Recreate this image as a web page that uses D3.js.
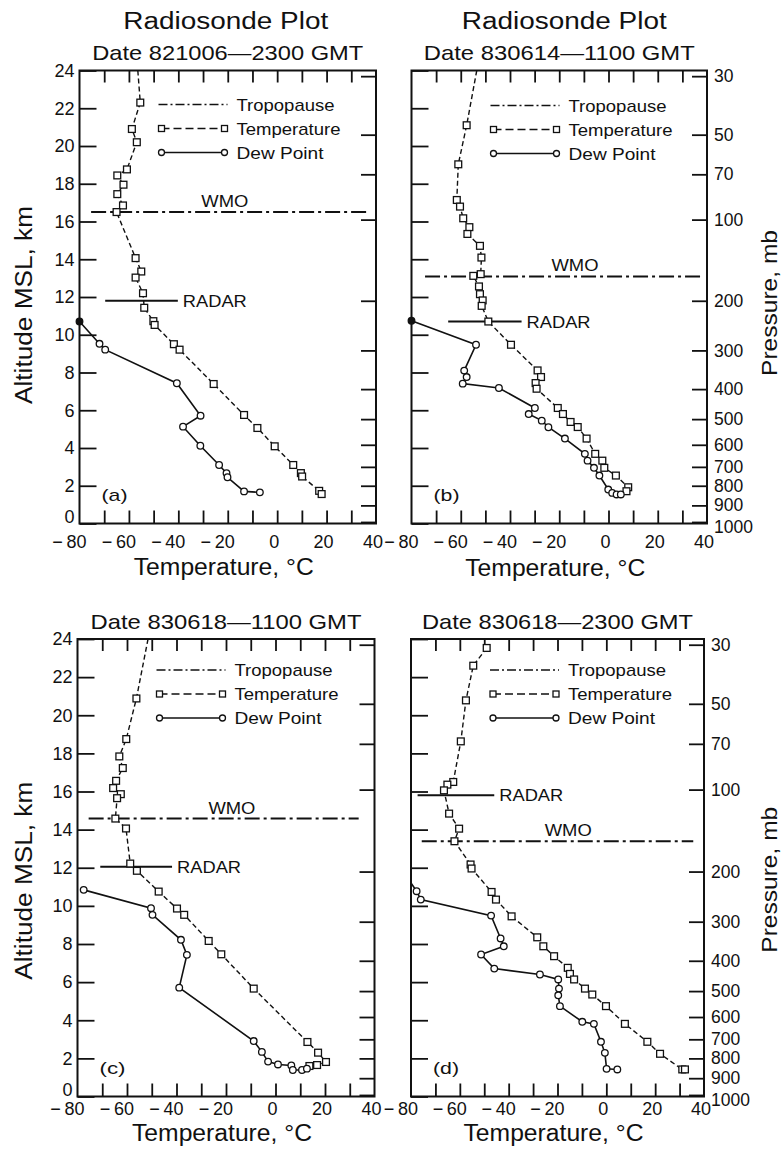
<!DOCTYPE html>
<html>
<head>
<meta charset="utf-8">
<script src="https://cdn.jsdelivr.net/npm/d3@7"></script>
<style>
  body { margin: 0; background: #fff; }
  svg { display: block; font-family: "Liberation Sans", Arial, Helvetica, sans-serif; }
</style>
</head>
<body>
<div id="chart"></div>
<script>
// values
const panelLetters = ["(a)", "(b)", "(c)", "(d)"];
const headlines = ["Radiosonde Plot", "Radiosonde Plot", "", ""];
const dateLines = ["Date 821006\u20142300 GMT", "Date 830614\u20141100 GMT",
                   "Date 830618\u20141100 GMT", "Date 830618\u20142300 GMT"];
const legendLabels = ["Tropopause", "Temperature", "Dew Point"];

const tempLabelValues = [-80, -60, -40, -20, 0, 20, 40];
const tempTickValues = [-70, -60, -50, -40, -30, -20, -10, 0, 10, 20, 30];
const altitudeTicks = [0, 2, 4, 6, 8, 10, 12, 14, 16, 18, 20, 22, 24];
const pressureLabels = [30, 50, 70, 100, 200, 300, 400, 500, 600, 700, 800, 900, 1000];
const pressureKm = [23.7, 20.6, 18.5, 16.1, 11.8, 9.17, 7.12, 5.53, 4.17, 3.0, 2.0, 0.96, 0.08];

// [temperature °C, altitude km]
const tempA = [[-55.4,22.3],[-58.8,20.9],[-56.8,20.2],[-60.8,18.76],[-64.7,18.44],[-62.2,17.95],[-64.7,17.45],
  [-62.4,16.85],[-65.0,16.5],[-57.3,14.06],[-55.0,13.35],[-57.3,13.03],[-54.3,12.2],[-53.8,11.43],[-50.1,10.72],
  [-49.6,10.52],[-41.8,9.5],[-39.5,9.21],[-25.7,7.39],[-13.4,5.75],[-8.0,5.06],[-1.0,4.09],[6.5,3.1],[9.6,2.67],
  [10.1,2.49],[17.0,1.73],[18.0,1.56]];
const dewA = [[-80,10.7],[-71.9,9.52],[-69.6,9.21],[-40.6,7.43],[-31.0,5.71],[-38.1,5.13],[-31.1,4.12],[-23.5,3.1],
  [-20.5,2.67],[-20.1,2.45],[-13.4,1.7],[-7.0,1.65]];

const tempB = [[-57.6,21.1],[-61.0,19.03],[-61.6,17.14],[-60.3,16.79],[-59.0,16.17],[-56.5,15.7],[-57.3,15.34],
  [-52.2,14.71],[-51.6,14.09],[-51.9,13.21],[-54.9,13.12],[-52.6,12.56],[-52.2,12.15],[-51.1,11.82],[-51.5,11.53],
  [-48.8,10.7],[-39.6,9.47],[-28.8,8.11],[-27.4,7.76],[-29.6,7.44],[-29.2,7.14],[-20.6,6.12],[-18.5,5.8],
  [-15.4,5.38],[-12.5,5.11],[-8.9,4.5],[-5.4,3.69],[-2.5,3.33],[-1.7,2.95],[3.0,2.54],[8.0,1.92],[7.3,1.71]];
const dewB = [[-80,10.74],[-53.8,9.47],[-58.6,8.1],[-57.6,7.76],[-59.2,7.41],[-44.5,7.18],[-29.9,6.12],[-32.4,5.8],
  [-27.1,5.45],[-24.4,5.1],[-17.7,4.5],[-9.6,3.69],[-8.5,3.33],[-5.9,2.95],[-3.7,2.54],[-0.1,1.8],[1.5,1.62],
  [3.3,1.54],[5.0,1.54]];

const tempC = [[-56.2,20.88],[-60.3,18.75],[-63.1,17.84],[-61.7,17.23],[-64.4,16.56],[-65.6,16.18],[-62.5,15.86],
  [-64.0,15.65],[-64.7,14.58],[-60.4,14.06],[-58.7,12.22],[-56.0,11.84],[-47.2,10.75],[-39.8,9.86],[-36.9,9.53],
  [-27.0,8.16],[-21.9,7.46],[-8.8,5.66],[12.9,2.86],[17.2,2.3],[20.4,1.81],[16.8,1.65],[13.7,1.6]];
const dewC = [[-77.5,10.84],[-50.3,9.88],[-49.7,9.53],[-38.2,8.22],[-35.8,7.43],[-38.9,5.71],[-8.8,2.91],[-5.5,2.34],
  [-3.0,1.83],[1.0,1.68],[6.4,1.63],[7.0,1.39],[10.7,1.39],[12.7,1.46]];

const tempD = [[-49.0,23.53],[-54.5,22.6],[-57.5,20.78],[-59.6,18.63],[-62.7,16.5],[-65.1,16.36],[-66.5,16.06],
  [-64.4,14.84],[-60.3,14.05],[-62.2,13.39],[-55.6,12.17],[-55.2,11.96],[-47.0,10.73],[-45.2,10.33],[-38.8,9.45],
  [-28.3,8.35],[-25.8,7.88],[-21.4,7.36],[-15.8,6.75],[-14.9,6.43],[-13.2,6.14],[-8.75,5.66],[-5.75,5.35],
  [-0.15,4.74],[7.6,3.81],[16.8,2.87],[22.0,2.24],[31.1,1.42],[32.2,1.42]];
const dewD = [[-77.7,10.77],[-76.0,10.33],[-47.2,9.49],[-43.3,8.29],[-42.0,7.88],[-51.3,7.45],[-45.9,6.71],
  [-27.2,6.4],[-19.7,6.14],[-19.4,5.66],[-19.7,5.31],[-19.0,4.74],[-9.85,3.92],[-5.1,3.81],[-2.2,2.87],
  [-0.6,2.29],[0.1,1.45],[4.5,1.42]];

const temps = [tempA, tempB, tempC, tempD];
const dews = [dewA, dewB, dewC, dewD];
// temperature where the dashed curve leaves through the top (24 km), no marker
const tempTopT = [-56.4, -53.5, -51.5, null];
// altitude where the dew point curve leaves through the left edge, no marker
const dewEdgeKm = [null, null, null, 11.2];

const wmoKm = [16.5, 13.09, 14.58, 13.39];
const wmoSpan = [[-75.3, 36.2], [-74.5, 37.8], [-75.5, 33.6], [-75.6, 35.6]];
const wmoLabelT = [-21.2, -13.6, -17.6, -15.6];
const radarKm = [11.8, 10.7, 12.05, 15.8];
const radarSpan = [[-69.6, -40.2], [-65.1, -35.3], [-70.8, -41.8], [-77.3, -45.9]];

// layout
const width = 781, height = 1157;
const frames = [
  {left: 79.5, right: 376, top: 70.5, bottom: 523.5, headDx: -2, legendTop: 34, tickBase: 24, titleBase: 51.5},
  {left: 411.5, right: 707, top: 70.5, bottom: 523.5, headDx: 5, legendTop: 35, tickBase: 24, titleBase: 52.5},
  {left: 77.5, right: 374.5, top: 639, bottom: 1096.5, headDx: 0, legendTop: 31, tickBase: 18.5, titleBase: 44.5},
  {left: 411, right: 704, top: 639, bottom: 1096.5, headDx: 0, legendTop: 31, tickBase: 18.5, titleBase: 44.5},
];

const svg = d3.select("#chart").append("svg")
    .attr("width", width)
    .attr("height", height)
    .attr("viewBox", [0, 0, width, height]);

function fitText(g, str, size, len) {
  return g.append("text")
      .attr("font-size", size)
      .attr("textLength", len)
      .attr("lengthAdjust", "spacingAndGlyphs")
      .attr("fill", "#111")
      .text(str);
}

function square(g, pts, x, y, s) {
  g.selectAll(null)
    .data(pts)
    .join("rect")
      .attr("x", d => x(d[0]) - s / 2)
      .attr("y", d => y(d[1]) - s / 2)
      .attr("width", s)
      .attr("height", s)
      .attr("fill", "#fff")
      .attr("stroke", "#111")
      .attr("stroke-width", 1.3);
}

function circle(g, pts, x, y, r) {
  g.selectAll(null)
    .data(pts)
    .join("circle")
      .attr("cx", d => x(d[0]))
      .attr("cy", d => y(d[1]))
      .attr("r", r)
      .attr("fill", d => d[0] <= -80 ? "#111" : "#fff")
      .attr("stroke", "#111")
      .attr("stroke-width", 1.3);
}

frames.forEach((f, i) => {
  const x = d3.scaleLinear([-80, 40], [f.left, f.right]);
  const y = d3.scaleLinear([0, 24], [f.bottom, f.top]);
  const pScale = d3.scaleOrdinal(pressureLabels, pressureKm.map(k => y(k)));
  const cx = (f.left + f.right) / 2;
  const g = svg.append("g");

  // titles
  if (headlines[i]) {
    fitText(g, headlines[i], 23, 205)
      .attr("x", cx + f.headDx).attr("y", f.top - 42).attr("text-anchor", "middle");
  }
  fitText(g, dateLines[i], 21, 271)
    .attr("x", cx).attr("y", f.top - 10.5).attr("text-anchor", "middle");

  // tick marks, all pointing inward
  const styleAxis = a => a.call(s => s.select(".domain").remove())
      .call(s => s.selectAll(".tick line").attr("stroke", "#111").attr("stroke-width", 1.8));

  g.append("g")
      .attr("transform", `translate(0,${f.top})`)
      .call(d3.axisTop(x).tickValues(tempTickValues).tickSize(-12).tickFormat(""))
      .call(styleAxis);
  g.append("g")
      .attr("transform", `translate(0,${f.bottom})`)
      .call(d3.axisBottom(x).tickValues(tempTickValues).tickSize(-13).tickFormat(""))
      .call(styleAxis);

  const showAlt = i % 2 === 0;
  g.append("g")
      .attr("transform", `translate(${f.left},0)`)
      .call(d3.axisLeft(y).tickValues(altitudeTicks).tickSize(-17).tickPadding(5)
        .tickFormat(d => showAlt ? d : ""))
      .call(styleAxis)
      .call(s => s.selectAll(".tick text").attr("font-size", 18).attr("fill", "#111")
        .attr("font-family", "Liberation Sans, Arial, sans-serif")
        .attr("dy", d => d === 0 ? "-0.05em" : "0.32em"));

  g.append("g")
      .attr("transform", `translate(${f.right},0)`)
      .call(d3.axisRight(pScale).tickValues(pressureLabels).tickSize(-15).tickPadding(7)
        .tickFormat(d => showAlt ? "" : d))
      .call(styleAxis)
      .call(s => s.selectAll(".tick text").attr("font-size", 17.5).attr("fill", "#111")
        .attr("font-family", "Liberation Sans, Arial, sans-serif")
        .attr("dy", d => d === 1000 ? "0.62em" : "0.32em"));

  // frame
  g.append("rect")
      .attr("x", f.left).attr("y", f.top)
      .attr("width", f.right - f.left).attr("height", f.bottom - f.top)
      .attr("fill", "none").attr("stroke", "#111").attr("stroke-width", 2);

  // temperature tick labels: digits centred on the tick, minus hangs left
  g.append("g")
      .attr("font-size", 18)
      .attr("fill", "#111")
      .attr("text-anchor", "end")
    .selectAll("text")
    .data(tempLabelValues)
    .join("text")
      .attr("x", d => x(d) - 3 + 5 * String(Math.abs(d)).length)
      .attr("y", f.bottom + f.tickBase)
      .text(d => d < 0 ? "\u2212\u2009" + Math.abs(d) : d);

  fitText(g, "Temperature, \u00b0C", 23, 180)
    .attr("x", cx - 4).attr("y", f.bottom + f.titleBase).attr("text-anchor", "middle");

  if (showAlt) {
    const cy = (f.top + f.bottom) / 2 + (i === 0 ? 8 : 13);
    fitText(g, "Altitude MSL, km", 23, 198)
      .attr("text-anchor", "middle")
      .attr("transform", `translate(32,${cy}) rotate(-90)`);
  } else {
    const cy = (f.top + f.bottom) / 2 + (i === 1 ? 6 : 12);
    fitText(g, "Pressure, mb", 22, 146)
      .attr("text-anchor", "middle")
      .attr("transform", `translate(777,${cy}) rotate(-90)`);
  }

  // WMO tropopause and radar top
  g.append("line")
      .attr("x1", x(wmoSpan[i][0])).attr("x2", x(wmoSpan[i][1]))
      .attr("y1", y(wmoKm[i])).attr("y2", y(wmoKm[i]))
      .attr("stroke", "#111").attr("stroke-width", 2)
      .attr("stroke-dasharray", "15,4,3,4");
  fitText(g, "WMO", 17, 47)
    .attr("x", x(wmoLabelT[i])).attr("y", y(wmoKm[i]) - 5).attr("text-anchor", "middle");

  g.append("line")
      .attr("x1", x(radarSpan[i][0])).attr("x2", x(radarSpan[i][1]))
      .attr("y1", y(radarKm[i])).attr("y2", y(radarKm[i]))
      .attr("stroke", "#111").attr("stroke-width", 2);
  fitText(g, "RADAR", 17, 64)
    .attr("x", x(radarSpan[i][1]) + 5).attr("y", y(radarKm[i])).attr("dy", "0.36em");

  // profiles
  const line = d3.line().x(d => x(d[0])).y(d => y(d[1]));
  const tLine = tempTopT[i] == null ? temps[i] : [[tempTopT[i], 24], ...temps[i]];
  const dLine = dewEdgeKm[i] == null ? dews[i] : [[-80, dewEdgeKm[i]], ...dews[i]];

  g.append("path")
      .attr("d", line(tLine))
      .attr("fill", "none").attr("stroke", "#111").attr("stroke-width", 1.4)
      .attr("stroke-dasharray", "5,3");
  g.append("path")
      .attr("d", line(dLine))
      .attr("fill", "none").attr("stroke", "#111").attr("stroke-width", 1.6);

  square(g, temps[i], x, y, 6.8);
  circle(g, dews[i], x, y, 3.3);

  // legend
  const lx0 = f.left + 79, lx1 = f.left + 148, ly = f.top + f.legendTop;
  const leg = g.append("g");
  leg.append("line")
      .attr("x1", lx0).attr("x2", lx1).attr("y1", ly).attr("y2", ly)
      .attr("stroke", "#111").attr("stroke-width", 1.5).attr("stroke-dasharray", "9,3,2,3");
  leg.append("line")
      .attr("x1", lx0 + 3).attr("x2", lx1 - 3).attr("y1", ly + 24).attr("y2", ly + 24)
      .attr("stroke", "#111").attr("stroke-width", 1.5).attr("stroke-dasharray", "8,4");
  leg.append("line")
      .attr("x1", lx0 + 3).attr("x2", lx1 - 3).attr("y1", ly + 48).attr("y2", ly + 48)
      .attr("stroke", "#111").attr("stroke-width", 1.6);
  [lx0 + 3, lx1 - 3].forEach(px => {
    leg.append("rect")
        .attr("x", px - 3).attr("y", ly + 24 - 3).attr("width", 6).attr("height", 6)
        .attr("fill", "#fff").attr("stroke", "#111").attr("stroke-width", 1.3);
    leg.append("circle")
        .attr("cx", px).attr("cy", ly + 48).attr("r", 3)
        .attr("fill", "#fff").attr("stroke", "#111").attr("stroke-width", 1.3);
  });
  const legLens = [98, 104, 87];
  legendLabels.forEach((s, k) => {
    fitText(leg, s, 17, legLens[k])
      .attr("x", f.left + 157).attr("y", ly + 24 * k).attr("dy", "0.36em");
  });

  fitText(g, panelLetters[i], 17, 26)
    .attr("x", f.left + 22).attr("y", f.bottom - 23);
});
</script>
</body>
</html>
